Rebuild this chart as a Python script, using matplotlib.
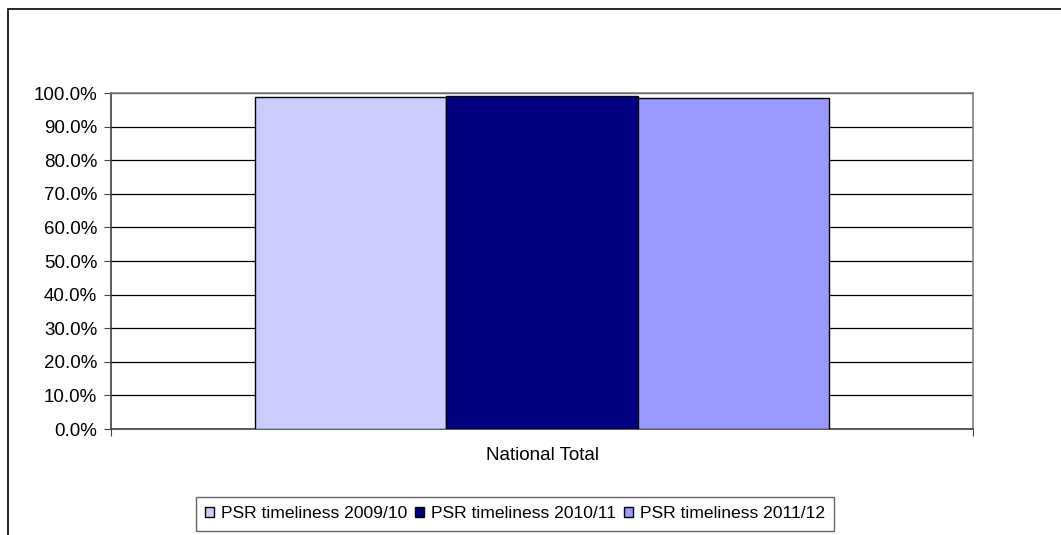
import numpy as np
import matplotlib
matplotlib.use('Agg')
import matplotlib.pyplot as plt
from matplotlib.patches import Rectangle
from matplotlib.ticker import FuncFormatter

categories = ['National Total']
series = ['PSR timeliness 2009/10', 'PSR timeliness 2010/11', 'PSR timeliness 2011/12']
values = [0.989, 0.991, 0.984]
colors = ['#CCCCFF', '#000080', '#9999FF']

plt.rcParams['font.family'] = ['Liberation Sans', 'DejaVu Sans']
plt.rcParams['font.size'] = 13.5

W, H = 1061, 535
fig = plt.figure(figsize=(W / 100, H / 100), dpi=100)
ax = fig.add_axes([111 / W, (H - 429) / H, 862 / W, 336 / H])

# outer chart border
fig.patches.append(Rectangle((8 / W, -0.1), 1.2, (H - 9) / H + 0.1,
                             transform=fig.transFigure, fill=False,
                             edgecolor='black', linewidth=1.2))

bar_w = 0.222
offsets = (np.arange(len(series)) - 1) * bar_w
x = np.arange(len(categories))
for i, s in enumerate(series):
    ax.bar(x + offsets[i], [values[i]], width=bar_w, color=colors[i],
           edgecolor='black', linewidth=1.0, label=s, zorder=3)

ax.set_xlim(-0.5, 0.5)
ax.set_ylim(0, 1.0)
ax.set_yticks(np.arange(0, 1.01, 0.1))
ax.yaxis.set_major_formatter(FuncFormatter(lambda v, p: f'{v * 100:.1f}%'))
ax.yaxis.grid(True, color='black', linewidth=0.9)
ax.set_axisbelow(True)

ax.set_xticks([-0.5, 0.5])
ax.set_xticklabels(['', ''])
ax.set_xticks([0], minor=True)
ax.set_xticklabels(categories, minor=True)
ax.tick_params(axis='x', which='minor', length=0, pad=13)
ax.tick_params(axis='x', which='major', length=5, color='#404040')
ax.tick_params(axis='y', length=5, pad=5, color='#404040')

for side in ['top', 'right']:
    ax.spines[side].set_color('#808080')
    ax.spines[side].set_linewidth(1.2)
for side in ['left', 'bottom']:
    ax.spines[side].set_color('#404040')
    ax.spines[side].set_linewidth(1.2)

leg = fig.legend(loc='center', bbox_to_anchor=(515 / W, 1 - 514 / H), ncol=3,
                 fontsize=12.6, frameon=True, fancybox=False, edgecolor='#404040',
                 handlelength=0.5, handleheight=0.5, handletextpad=0.4,
                 columnspacing=0.45, borderpad=0.55, borderaxespad=0)
leg.get_frame().set_linewidth(1.0)

fig.savefig('out.png', dpi=100)
